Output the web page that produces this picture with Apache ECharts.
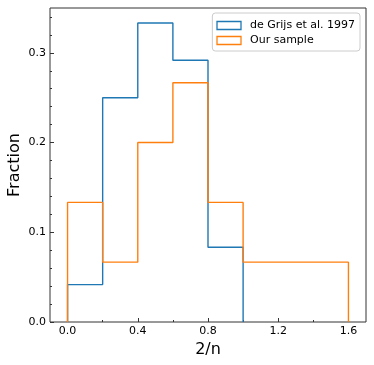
<!DOCTYPE html>
<html lang="en">
<head>
<meta charset="UTF-8" />
<title>2/n histogram</title>
<script src="https://cdn.jsdelivr.net/npm/echarts@6/dist/echarts.min.js"></script>
</head>
<body style="margin:0;">
<div id="main" style="width:374px; height:365px;"></div>
<script type="text/javascript">
// bin edges and fractions per bin
var binEdges = [0.0, 0.2, 0.4, 0.6, 0.8, 1.0, 1.2, 1.4, 1.6];
var grijsValues = [0.0417, 0.25, 0.3333, 0.2917, 0.0833];
var sampleValues = [0.1333, 0.0667, 0.2, 0.2667, 0.1333, 0.0667, 0.0667, 0.0667];
var seriesNames = ['de Grijs et al. 1997', 'Our sample'];
var xMajorTicks = [0.0, 0.4, 0.8, 1.2, 1.6];
var xMinorTicks = [0.2, 0.6, 1.0, 1.4];
var yMajorTicks = [0.0, 0.1, 0.2, 0.3];
var yMinorTicks = [0.02, 0.04, 0.06, 0.08, 0.12, 0.14, 0.16, 0.18, 0.22, 0.24, 0.26, 0.28, 0.32, 0.34];

// turn bins into an outline like histtype='step'
function stepPoints(values) {
    var pts = [[binEdges[0], 0]];
    for (var i = 0; i < values.length; i++) {
        pts.push([binEdges[i], values[i]]);
        pts.push([binEdges[i + 1], values[i]]);
    }
    pts.push([binEdges[values.length], 0]);
    return pts;
}

var font = 'DejaVu Sans';
var myChart = echarts.init(document.getElementById('main'));

function xAx(ticks, len, labels) {
    return {
        type: 'value', min: -0.1, max: 1.7, position: 'bottom',
        axisLine: { show: false, onZero: false },
        splitLine: { show: false },
        axisTick: { show: true, inside: true, length: len, customValues: ticks, lineStyle: { color: '#333' } },
        axisLabel: { show: labels, customValues: ticks, color: '#000', fontFamily: font, fontSize: 11, margin: 4,
            formatter: function (v) { return v.toFixed(1); } }
    };
}
function yAx(ticks, len, labels) {
    return {
        type: 'value', min: 0, max: 0.35, position: 'left',
        axisLine: { show: false, onZero: false },
        splitLine: { show: false },
        axisTick: { show: true, inside: true, length: len, customValues: ticks, lineStyle: { color: '#333' } },
        axisLabel: { show: labels, customValues: ticks, color: '#000', fontFamily: font, fontSize: 11, margin: 4,
            formatter: function (v) { return v.toFixed(1); } }
    };
}

var xMain = xAx(xMajorTicks, 4, true);
xMain.name = '2/n';
xMain.nameLocation = 'middle';
xMain.nameGap = 12;
xMain.nameTextStyle = { fontFamily: font, fontSize: 16, color: '#000' };
var yMain = yAx(yMajorTicks, 4, true);
yMain.name = 'Fraction';
yMain.nameLocation = 'middle';
yMain.nameGap = 27;
yMain.nameMoveOverlap = false;
yMain.nameTextStyle = { fontFamily: font, fontSize: 16, color: '#000' };

var option = {
    animation: false,
    backgroundColor: '#fff',
    grid: { left: 50, right: 8, top: 8, bottom: 43, outerBoundsMode: 'none', containLabel: false,
            show: true, borderColor: '#333', borderWidth: 1, backgroundColor: 'transparent' },
    legend: {
        right: 14, top: 13,
        orient: 'vertical',
        itemWidth: 24, itemHeight: 8, itemGap: 4,
        padding: [7, 5, 5, 4],
        backgroundColor: '#fff',
        borderColor: '#ccc', borderWidth: 1, borderRadius: 3,
        textStyle: { fontFamily: font, fontSize: 11, color: '#000', padding: [0, 0, 0, 4] },
        data: [
            { name: seriesNames[0], icon: 'rect', itemStyle: { color: 'transparent', borderColor: '#1f77b4', borderWidth: 1.3 } },
            { name: seriesNames[1], icon: 'rect', itemStyle: { color: 'transparent', borderColor: '#ff7f0e', borderWidth: 1.3 } }
        ]
    },
    xAxis: [xMain, xAx(xMinorTicks, 2, false)],
    yAxis: [yMain, yAx(yMinorTicks, 2, false)],
    series: [
        { name: seriesNames[0], type: 'line', data: stepPoints(grijsValues), showSymbol: false,
          lineStyle: { color: '#1f77b4', width: 1.4 }, itemStyle: { color: '#1f77b4' } },
        { name: seriesNames[1], type: 'line', data: stepPoints(sampleValues), showSymbol: false,
          lineStyle: { color: '#ff7f0e', width: 1.4 }, itemStyle: { color: '#ff7f0e' } }
    ]
};
myChart.setOption(option);
</script>
</body>
</html>
